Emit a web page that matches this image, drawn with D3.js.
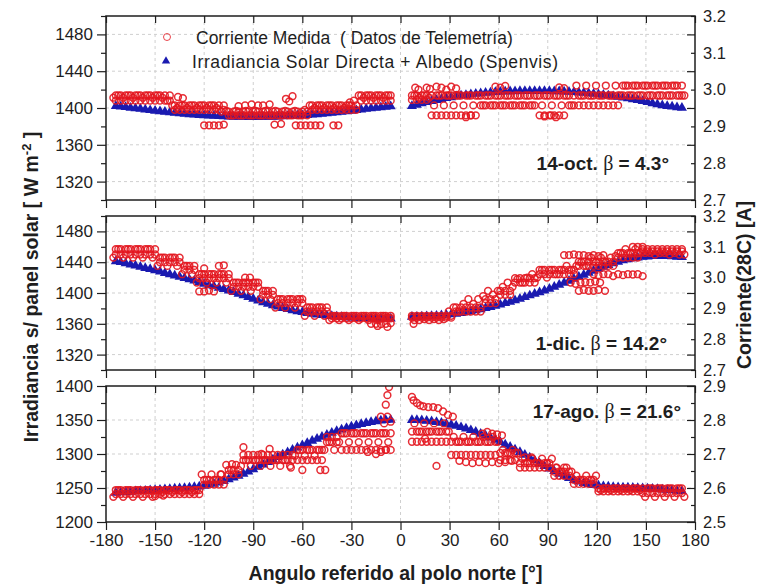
<!DOCTYPE html>
<html>
<head>
<meta charset="utf-8">
<script src="https://cdn.jsdelivr.net/npm/d3@7"></script>
<style>
  body { margin: 0; background: #fff; }
  text { font-family: "Liberation Sans", Arial, sans-serif; fill: #1e1e1e; }
</style>
</head>
<body>
<svg id="chart" width="757" height="587"></svg>
<script>
// ---- sampling angles (deg from north pole) ----
const angleLeft   = d3.range(-174, -5, 3);     // -174 ... -6
const angleRight  = d3.range(7, 173, 3);       //    7 ... 172
const angleLeftB  = d3.range(-175.5, -5, 3);   // interleaved telemetry samples
const angleRightB = d3.range(8.5, 174, 3);

// ---- axis ticks ----
const angleTicks = [-180, -150, -120, -90, -60, -30, 0, 30, 60, 90, 120, 150, 180];
const angleGrid  = [-150, -120, -90, -60, -30, 0, 30, 60, 90, 120, 150];
const irrTicksA  = [1320, 1360, 1400, 1440, 1480];
const irrMinorA  = [1300, 1340, 1380, 1420, 1460, 1500];
const irrTicksB  = [1200, 1250, 1300, 1350, 1400];
const irrMinorB  = [1225, 1275, 1325, 1375];
const curTicksA  = [2.7, 2.8, 2.9, 3.0, 3.1, 3.2];
const curTicksB  = [2.5, 2.6, 2.7, 2.8, 2.9];

// ---- panel captions ----
const dateLabels = ["14-oct.", "1-dic.", "17-ago."];
const betaLabels = ["4.3", "14.2", "21.6"];

// ================= 14-oct =================
// Spenvis irradiance [W m-2]
const octIrrLeft = [
  1402,1401.5,1401,1400.3,1399.6,1399,1398.3,1397.6,1397,1396.4,
  1395.8,1395.2,1394.7,1394.2,1393.7,1393.2,1392.8,1392.4,1392,1391.7,
  1391.4,1391.1,1390.9,1390.7,1390.5,1390.4,1390.3,1390.2,1390.2,1390.2,
  1390.3,1390.4,1390.5,1390.7,1390.9,1391.1,1391.4,1391.7,1392,1392.4,
  1392.8,1393.2,1393.7,1394.2,1394.7,1395.2,1395.8,1396.4,1397,1397.6,
  1398.3,1399,1399.6,1400.2,1400.8,1401.3,1401.8];
const octIrrRight = [
  1402,1403.5,1405,1406.3,1407.5,1408.7,1409.8,1410.8,1411.7,1412.6,
  1413.4,1414.1,1414.8,1415.4,1415.9,1416.4,1416.8,1417.2,1417.5,1417.8,
  1418,1418.2,1418.3,1418.4,1418.5,1418.5,1418.5,1418.4,1418.3,1418.2,
  1418,1417.8,1417.5,1417.2,1416.8,1416.4,1415.9,1415.4,1414.8,1414.2,
  1413.5,1412.8,1412,1411.2,1410.5,1409.5,1408.5,1407.5,1406.3,1405.2,
  1404.1,1403,1402.2,1401.5,1400.8,1400.2];
// telemetry current [A]
const octCurALeft = [
  2.984,2.984,2.984,2.984,2.984,2.984,2.984,2.984,2.984,2.984,2.984,2.984,
  2.957,2.957,2.957,2.957,2.957,2.957,2.957,2.957,2.957,2.957,2.957,
  2.930,2.930,2.930,2.930,2.930,2.930,2.930,2.930,2.930,2.930,2.930,2.930,2.930,2.930,2.930,2.930,2.930,
  2.957,2.957,2.957,2.957,2.957,2.957,2.957,2.957,2.957,2.957,
  2.984,2.984,2.984,2.984,2.984,2.984,2.984];
const octCurBLeft = [
  2.978,2.984,2.978,2.984,2.978,2.984,2.978,2.984,2.978,2.984,2.978,2.970,
  2.957,2.950,2.957,2.950,2.957,2.950,2.957,2.950,2.957,2.950,2.940,
  2.942,2.930,2.942,2.930,2.942,2.930,2.942,2.930,2.942,2.930,2.942,2.930,2.942,2.930,2.942,2.930,2.945,
  2.957,2.950,2.957,2.950,2.957,2.950,2.957,2.950,2.957,2.970,
  2.984,2.978,2.984,2.978,2.984,2.978,2.984];
const octCurCLeft = [
  2.970,2.970,2.970,2.970,2.970,2.970,2.970,2.970,2.970,2.970,2.970,2.970,
  2.945,2.945,2.945,2.945,2.945,2.945,2.945,2.945,2.945,2.945,2.945,
  2.940,2.940,2.940,2.940,2.940,2.940,2.940,2.940,2.940,2.940,2.940,2.940,2.940,2.940,2.940,2.940,2.940,
  2.945,2.945,2.945,2.945,2.945,2.945,2.945,2.945,2.945,2.945,
  2.970,2.970,2.970,2.970,2.970,2.970,2.970];
const octCurARight = [
  2.984,2.984,2.984,2.984,2.984,2.984,2.984,2.984,2.984,2.984,
  2.984,2.984,2.984,2.984,2.984,2.984,2.984,2.984,2.984,2.984,
  2.984,2.984,2.984,2.984,2.984,2.984,2.984,2.984,2.984,2.984,
  2.984,2.984,2.984,2.984,2.984,2.984,2.984,2.984,2.984,2.984,
  2.984,2.984,2.984,2.984,2.984,2.984,2.984,2.984,2.984,2.984,
  2.984,2.984,2.984,2.984,2.984,2.984];
const octCurBRight = [
  2.984,2.978,2.984,2.978,
  2.957,2.984,2.957,2.984,2.957,2.984,2.957,2.984,2.957,2.984,2.957,2.984,2.957,2.984,2.957,
  2.984,2.957,2.984,2.957,2.984,2.957,2.984,2.957,2.984,2.957,2.984,2.957,2.984,2.957,
  3.011,2.984,3.011,2.984,3.011,2.984,3.011,2.984,3.011,2.984,3.011,2.984,
  3.011,2.984,3.011,2.984,3.011,2.984,3.011,2.984,3.011,2.984,2.984];
const octCurCRight = [
  2.972,2.972,2.972,2.972,
  2.930,2.930,2.930,2.930,2.930,2.930,2.930,2.930,2.930,2.930,
  2.957,2.957,2.957,2.957,2.957,2.957,2.957,2.957,2.957,2.957,2.957,2.957,
  2.930,2.930,2.930,2.930,2.930,2.930,
  2.957,2.957,2.957,2.957,2.957,2.957,2.957,2.957,2.957,2.957,2.957,
  3.011,3.011,3.011,3.011,3.011,3.011,3.011,3.011,3.011,3.011,3.011,3.011,3.011];
const octCurScatter = [
  [-136,2.98],[-133,2.977],[-120,2.903],[-117,2.903],[-114,2.903],[-111,2.903],[-108,2.905],
  [-99,2.955],[-95,2.957],[-91,2.96],[-87,2.957],[-84,2.957],[-80,2.96],[-77,2.905],[-73,2.907],
  [-70,2.975],[-68,2.968],[-66,2.982],[-64,2.903],[-61,2.903],[-58,2.903],[-55,2.903],
  [-52,2.903],[-49,2.903],[-41,2.903],[-38,2.903],[-31,2.965],
  [9,3.005],[11,3.0],[16,3.005],[18,3.002],[22,3.008],[25,3.005],[28,3.0],[31,3.008],[34,3.003],
  [58,3.008],[61,3.005],[64,3.01],[97,3.006],[100,3.004],
  [40,2.925],[43,2.93],[88,2.927],[92,2.93],[95,2.925]];

// ================= 1-dic =================
const decIrrLeft = [
  1441,1440,1438.5,1437,1435.5,1434,1432.5,1431,1429.3,1427.7,
  1426,1424.3,1422.6,1421,1419.3,1417.6,1416,1414,1412,1410,
  1408.5,1406.8,1405,1403.2,1401.2,1399,1396.8,1394.6,1392.4,1390.2,
  1388,1386,1384,1382.2,1380.5,1379,1377.6,1376.3,1375.1,1374,
  1373,1372.1,1371.3,1370.6,1370,1369.4,1368.9,1368.5,1368.1,1367.8,
  1367.5,1367.3,1367.1,1367,1366.9,1366.8,1366.8];
const decIrrRight = [
  1369,1369.2,1369.4,1369.7,1370,1370.5,1371,1371.5,1372.2,1373,
  1374,1375,1376.2,1377.4,1378.8,1380.3,1381.8,1383.4,1385,1386.8,
  1388.6,1390.5,1392.5,1394.6,1396.8,1399,1401,1403,1405.5,1408,
  1410.6,1413.2,1415.8,1418.4,1421,1423.6,1426.2,1428.8,1431.4,1434,
  1436.4,1438.6,1440.6,1442.3,1443.8,1445,1446,1446.8,1447.4,1447.8,
  1448,1448,1447.8,1447.5,1447,1446.5];
const decCurALeft = [
  3.092,3.092,3.092,3.092,3.092,3.092,3.092,3.092,3.092,
  3.065,3.065,3.065,3.065,3.065,
  3.038,3.038,3.038,
  3.011,3.011,3.011,3.011,3.011,3.011,3.011,
  2.984,2.984,2.984,2.984,2.984,2.984,
  2.957,2.957,2.957,
  2.930,2.930,2.930,2.930,2.930,2.930,
  2.903,2.903,2.903,2.903,2.903,
  2.876,2.876,2.876,2.876,2.876,2.876,2.876,2.876,2.876,2.876,2.876,2.876,2.876];
const decCurBLeft = [
  3.065,3.092,3.065,3.092,3.065,3.092,3.065,3.092,3.065,
  3.038,3.065,3.038,3.065,3.038,
  3.011,3.038,3.011,
  2.984,3.011,2.984,3.011,2.984,3.011,2.984,
  2.957,2.984,2.957,2.984,2.957,2.984,
  2.930,2.957,2.930,
  2.903,2.930,2.903,2.930,2.903,2.930,
  2.876,2.903,2.876,2.903,2.876,
  2.862,2.876,2.862,2.876,2.862,2.876,2.862,2.876,2.862,2.876,2.862,2.876,2.870];
const decCurCLeft = [
  3.075,3.075,3.075,3.075,3.075,3.075,3.075,3.075,3.075,
  3.050,3.050,3.050,3.050,3.050,
  3.025,3.025,3.025,
  2.998,2.998,2.998,2.998,2.998,2.998,2.998,
  2.970,2.970,2.970,2.970,2.970,2.970,
  2.944,2.944,2.944,
  2.917,2.917,2.917,2.917,2.917,2.917,
  2.890,2.890,2.890,2.890,2.890,
  2.868,2.868,2.868,2.868,2.868,2.868,2.868,2.868,2.868,2.868,2.868,2.868,2.868];
const decCurARight = [
  2.876,2.876,2.876,2.876,2.876,2.876,2.876,2.876,2.876,
  2.903,2.903,2.903,2.903,2.903,2.903,
  2.930,2.930,2.930,
  2.957,2.957,2.957,
  2.984,2.984,2.984,2.984,2.984,
  3.011,3.011,3.011,3.011,3.011,3.011,3.011,3.011,
  3.038,3.038,3.038,3.038,3.038,3.038,3.038,3.038,
  3.065,3.065,3.065,3.065,3.065,
  3.092,3.092,3.092,3.092,3.092,3.092,3.092,3.092,3.092];
const decCurBRight = [
  2.862,2.862,2.865,2.862,2.865,2.862,2.865,2.890,
  2.903,2.890,2.915,2.930,2.915,2.930,2.940,2.957,2.945,2.957,
  2.970,2.984,2.970,2.995,2.984,3.000,3.011,3.000,3.025,3.000,
  3.025,3.011,3.025,3.038,3.025,3.038,3.050,3.038,3.065,3.050,
  3.065,3.050,3.065,3.070,3.080,3.092,3.080,3.092,3.080,3.080,
  3.080,3.075,3.080,3.080,3.075,3.080,3.075,3.075];
const decCurCRight = [
  2.870,2.870,2.870,2.870,2.870,2.870,2.870,2.870,2.870,
  2.890,2.890,2.890,2.890,2.890,2.890,
  2.917,2.917,2.917,
  2.944,2.944,2.944,
  2.998,2.998,2.998,2.998,2.998,
  3.025,3.025,3.025,3.025,3.025,3.025,3.025,3.025,
  3.052,3.052,3.052,3.052,3.052,3.052,3.052,3.052,
  3.079,3.079,3.079,3.079,3.079,
  3.085,3.085,3.085,3.085,3.085,3.085,3.085,3.085,3.085];
const decCurScatter = [
  [-123,2.955],[-120,2.955],[-117,2.958],[-114,2.955],[-111,3.038],[-108,3.04],[-120,3.03],
  [-95,3.0],[-92,3.0],[-18,2.85],[-15,2.85],[-12,2.849],[-9,2.85],[-6,2.852],[-14,2.843],[-8,2.84],
  [8,2.85],[100,3.073],[103,3.073],[106,3.075],[109,3.073],[112,3.073],[115,3.07],[118,3.073],
  [121,3.07],[124,3.073],[118,3.011],[121,3.008],[124,3.011],[127,3.011],[130,3.005],[133,3.011],
  [136,3.008],[139,3.011],[142,3.01],[145,3.011],[148,3.005],[104,2.984],[107,2.98],[110,2.984],
  [113,2.985],[116,2.984],[119,2.987],[122,2.984],[109,2.957],[112,2.96],[115,2.957],[118,2.957],
  [121,2.96],[125,2.957],[142,3.1],[145,3.1],[148,3.1]];

// ================= 17-ago =================
const agoIrrLeft = [
  1243,1243.5,1244,1244.5,1245,1245.5,1246,1246.5,1247,1247.5,
  1248,1248.5,1249,1249.5,1250,1250.6,1251.3,1252,1253,1254.5,
  1256.2,1258,1260.2,1262.6,1265.2,1268,1271,1274.2,1277.5,1281,
  1284.6,1288.2,1291.8,1295.4,1299,1302.6,1306,1309.4,1312.8,1316,
  1319.2,1322.3,1325.3,1328.2,1331,1333.6,1336,1338.3,1340.4,1342.3,
  1344,1345.5,1346.8,1348,1349,1349.8,1350.4];
const agoIrrRight = [
  1350,1349.8,1349.4,1348.8,1348,1347,1345.8,1344.5,1343,1341.3,
  1339.4,1337.3,1335,1332.5,1329.8,1327,1324,1320.8,1317.5,1314,
  1310.4,1306.6,1302.7,1298.7,1294.6,1290.5,1286.4,1282.4,1278.5,1274.7,
  1271,1267.6,1264.5,1261.7,1259.3,1257.3,1255.7,1254.4,1253.4,1252.6,
  1252,1251.5,1251.1,1250.8,1250.5,1250.2,1249.9,1249.6,1249.2,1248.8,
  1248.3,1247.8,1247.2,1246.6,1246,1245.3];
const agoCurALeft = [
  2.594,2.594,2.594,2.594,2.594,2.594,2.594,2.594,2.594,2.594,2.594,2.594,2.594,2.594,2.594,2.594,2.594,2.594,
  2.624,2.624,2.624,2.624,2.624,
  2.653,2.653,2.653,
  2.682,2.682,2.682,2.682,2.682,2.682,2.682,2.682,2.682,2.682,2.682,
  2.712,2.712,2.712,2.712,2.712,2.712,
  2.735,2.735,2.735,
  2.761,2.761,2.761,2.761,2.761,2.761,2.761,2.761,2.761,2.761,2.761];
const agoCurBLeft = [
  2.574,2.594,2.574,2.594,2.574,2.594,2.574,2.594,2.574,2.594,
  2.588,2.594,2.588,2.594,2.588,2.594,2.588,2.594,
  2.640,2.624,2.640,2.624,2.640,
  2.668,2.653,2.668,
  2.665,2.682,2.665,2.682,2.665,2.682,2.665,2.682,2.665,2.682,2.665,
  2.695,2.712,2.695,2.712,2.695,2.712,
  2.712,2.735,2.712,
  2.735,2.761,2.735,2.761,2.735,2.761,2.735,2.761,2.735,2.761,2.735];
const agoCurCLeft = [
  2.582,2.582,2.582,2.582,2.582,2.582,2.582,2.582,2.582,2.582,2.582,2.582,2.582,2.582,2.582,2.582,2.582,2.582,
  2.610,2.610,2.610,2.610,2.610,
  2.640,2.640,2.640,
  2.697,2.697,2.697,2.697,2.697,2.697,2.697,2.697,2.697,2.697,2.697,
  2.682,2.682,2.682,2.682,2.682,2.682,
  2.750,2.750,2.750,
  2.712,2.712,2.712,2.712,2.712,2.712,2.712,2.712,2.712,2.712,2.712];
const agoCurARight = [
  2.766,2.766,2.766,2.766,2.766,2.766,2.766,2.766,
  2.736,2.736,2.736,2.736,2.736,2.736,2.736,2.736,2.736,2.736,
  2.703,2.703,2.703,2.703,
  2.673,2.673,2.673,2.673,2.673,2.673,2.673,
  2.648,2.648,2.648,2.648,
  2.624,2.624,2.624,2.624,2.624,
  2.599,2.599,2.599,2.599,2.599,2.599,2.599,2.599,2.599,2.599,2.599,2.599,2.599,2.599,2.599,2.599,2.599,2.599];
const agoCurBRight = [
  2.790,2.766,2.790,2.766,2.790,2.766,2.790,2.766,
  2.750,2.736,2.750,2.736,2.750,2.736,2.750,2.736,2.750,2.736,
  2.712,2.703,2.712,2.703,
  2.686,2.673,2.686,2.673,2.686,2.673,2.686,
  2.660,2.648,2.660,2.648,
  2.636,2.624,2.636,2.624,2.636,
  2.594,2.599,2.594,2.599,2.594,2.599,2.594,2.599,2.594,
  2.574,2.599,2.574,2.599,2.574,2.599,2.574,2.599,2.574];
const agoCurCRight = [
  2.736,2.736,2.736,2.736,2.736,2.736,2.736,2.736,
  2.697,2.697,2.697,2.697,2.697,2.697,2.697,2.697,2.697,2.697,
  2.682,2.682,2.682,2.682,
  2.660,2.660,2.660,2.660,2.660,2.660,2.660,
  2.636,2.636,2.636,2.636,
  2.612,2.612,2.612,2.612,2.612,
  2.590,2.590,2.590,2.590,2.590,2.590,2.590,2.590,2.590,
  2.585,2.585,2.585,2.585,2.585,2.585,2.585,2.585,2.585];
const agoCurScatter = [
  [-7,2.897],[-8,2.873],[-9,2.845],[-12,2.81],[-8,2.81],[-6,2.795],[-10,2.79],
  [-60,2.653],[-49,2.653],[-46,2.653],[-67,2.66],[-85,2.70],[-80,2.715],[-96,2.72],
  [-20,2.706],[-15,2.70],[-12,2.706],[-9,2.712],[-145,2.578],[-150,2.576],[-103,2.67],[-110,2.64],
  [7,2.868],[8,2.858],[10,2.85],[12,2.843],[14,2.84],[17,2.838],[20,2.838],[23,2.835],[26,2.825],
  [29,2.815],[32,2.81],[15,2.745],[22,2.665],[36,2.68],[40,2.676],[44,2.673],[48,2.676],[52,2.673],
  [56,2.676],[60,2.673],[64,2.676],[68,2.68],[50,2.76],[53,2.765],[56,2.76],[59,2.758],[62,2.755],
  [76,2.69],[80,2.69],[95,2.66],[100,2.66]];

// ---- legend ----
const legendMeasured = "Corriente Medida  ( Datos de Telemetría)";
const legendModel    = "Irradiancia Solar Directa + Albedo (Spenvis)";

// ---------------------------------------------------------------
const svg = d3.select("#chart");
const X0 = 106, X1 = 695;
const x = d3.scaleLinear().domain([-180, 180]).range([X0, X1]);

const RED = "#e3161f", BLUE = "#1a1ab0", INK = "#1e1e1e";

const panels = [
  { top: 16,  bottom: 200, irrDomain: [1300, 1500], curDomain: [2.7, 3.2],
    irrTicks: irrTicksA, irrMinor: irrMinorA, curTicks: curTicksA,
    irr: [octIrrLeft, octIrrRight],
    cur: [[octCurALeft, octCurBLeft, octCurCLeft], [octCurARight, octCurBRight, octCurCRight]],
    scatter: octCurScatter, capX: 669, capY: 170 },
  { top: 216, bottom: 370, irrDomain: [1300, 1500], curDomain: [2.7, 3.2],
    irrTicks: irrTicksA, irrMinor: irrMinorA, curTicks: curTicksA,
    irr: [decIrrLeft, decIrrRight],
    cur: [[decCurALeft, decCurBLeft, decCurCLeft], [decCurARight, decCurBRight, decCurCRight]],
    scatter: decCurScatter, capX: 667, capY: 350 },
  { top: 386, bottom: 522, irrDomain: [1200, 1400], curDomain: [2.5, 2.9],
    irrTicks: irrTicksB, irrMinor: irrMinorB, curTicks: curTicksB,
    irr: [agoIrrLeft, agoIrrRight],
    cur: [[agoCurALeft, agoCurBLeft, agoCurCLeft], [agoCurARight, agoCurBRight, agoCurCRight]],
    scatter: agoCurScatter, capX: 681, capY: 418, xLabels: true }
];

function styleAxis(g, fontSize) {
  g.attr("font-size", null).attr("font-family", null);
  g.select(".domain").remove();
  g.selectAll(".tick line").attr("stroke", INK).attr("stroke-width", 1.2);
  g.selectAll(".tick text").style("font-size", fontSize + "px").attr("fill", INK);
}

// row 0 and row 2 use the base grid, row 1 the interleaved grid
const grids = [[angleLeft, angleLeftB, angleLeft], [angleRight, angleRightB, angleRight]];

panels.forEach((p, k) => {
  const yL = d3.scaleLinear().domain(p.irrDomain).range([p.bottom, p.top]);
  const yR = d3.scaleLinear().domain(p.curDomain).range([p.bottom, p.top]);
  const g = svg.append("g");

  // grid
  const grid = g.append("g").attr("stroke", "#cfcfcf").attr("stroke-width", 1)
    .attr("stroke-dasharray", "3,3");
  grid.selectAll("line.v").data(angleGrid).join("line").attr("class", "v")
    .attr("x1", d => x(d)).attr("x2", d => x(d)).attr("y1", p.top).attr("y2", p.bottom);
  grid.selectAll("line.h").data(p.irrTicks.filter(d => yL(d) > p.top + 1 && yL(d) < p.bottom - 1))
    .join("line").attr("class", "h")
    .attr("x1", X0).attr("x2", X1).attr("y1", d => yL(d)).attr("y2", d => yL(d));

  // clip
  const cid = "clip" + k;
  svg.append("clipPath").attr("id", cid).append("rect")
    .attr("x", X0).attr("y", p.top).attr("width", X1 - X0).attr("height", p.bottom - p.top);
  const data = g.append("g").attr("clip-path", `url(#${cid})`);

  // model irradiance (triangles)
  const tri = [];
  p.irr.forEach((arr, s) => arr.forEach((v, i) => {
    const a = grids[s][0][i];
    if (v != null && a != null) tri.push({ a, v });
  }));
  data.append("g").selectAll("path").data(tri).join("path")
    .attr("d", d3.symbol(d3.symbolTriangle, 44))
    .attr("transform", d => `translate(${x(d.a)},${yL(d.v)})`)
    .attr("fill", BLUE);

  // measured current (open circles)
  const circ = [];
  p.cur.forEach((rows, s) => rows.forEach((arr, r) => arr.forEach((v, i) => {
    const a = grids[s][r][i];
    if (v != null && a != null) circ.push({ a, v });
  })));
  p.scatter.forEach(([a, v]) => circ.push({ a, v }));
  data.append("g").selectAll("circle").data(circ).join("circle")
    .attr("cx", d => x(d.a)).attr("cy", d => yR(d.v)).attr("r", 3.4)
    .attr("fill", "none").attr("stroke", RED).attr("stroke-width", 1.5)
    .attr("stroke-opacity", 0.9);

  // left axis: labels + major ticks (outward), minor ticks
  g.append("g").attr("transform", `translate(${X0},0)`)
    .call(d3.axisLeft(yL).tickValues(p.irrTicks).tickSize(9).tickPadding(4).tickFormat(d => String(d)))
    .call(a => styleAxis(a, 17));
  g.append("g").attr("transform", `translate(${X0},0)`)
    .call(d3.axisLeft(yL).tickValues(p.irrMinor).tickSize(5).tickFormat(""))
    .call(a => styleAxis(a, 17));
  // right side: mirrored ticks pointing inward
  g.append("g").attr("transform", `translate(${X1},0)`)
    .call(d3.axisLeft(yL).tickValues(p.irrTicks).tickSize(8).tickFormat(""))
    .call(a => styleAxis(a, 17));
  g.append("g").attr("transform", `translate(${X1},0)`)
    .call(d3.axisLeft(yL).tickValues(p.irrMinor).tickSize(4).tickFormat(""))
    .call(a => styleAxis(a, 17));
  // right labels: current
  g.append("g").attr("transform", `translate(${X1},0)`)
    .call(d3.axisRight(yR).tickValues(p.curTicks).tickSize(0).tickPadding(8).tickFormat(d3.format(".1f")))
    .call(a => styleAxis(a, 16.5));

  // angle ticks: top edge (inward) and bottom edge (outward), both pointing down
  g.append("g").attr("transform", `translate(0,${p.top})`)
    .call(d3.axisBottom(x).tickValues(angleTicks).tickSize(7).tickFormat(""))
    .call(a => styleAxis(a, 17));
  g.append("g").attr("transform", `translate(0,${p.bottom})`)
    .call(d3.axisBottom(x).tickValues(angleTicks).tickSize(8).tickPadding(4)
      .tickFormat(p.xLabels ? (d => String(d)) : ""))
    .call(a => styleAxis(a, 17));

  // frame
  g.append("rect").attr("x", X0).attr("y", p.top).attr("width", X1 - X0)
    .attr("height", p.bottom - p.top).attr("fill", "none")
    .attr("stroke", INK).attr("stroke-width", 1.5);

  // caption
  const cap = g.append("text").attr("x", p.capX).attr("y", p.capY)
    .attr("text-anchor", "end").style("font-size", "19px").style("font-weight", "bold")
    .style("white-space", "pre");
  cap.append("tspan").text(dateLabels[k] + " ");
  cap.append("tspan").style("font-family", "'Liberation Serif', 'DejaVu Serif', serif")
    .style("font-weight", "normal").style("font-size", "20px").text("β");
  cap.append("tspan").text(" = " + betaLabels[k] + "°");
});

// legend
const lg = svg.append("g");
lg.append("circle").attr("cx", 167).attr("cy", 37).attr("r", 3.5)
  .attr("fill", "none").attr("stroke", RED).attr("stroke-width", 1).attr("stroke-opacity", 0.8);
lg.append("text").attr("x", 196).attr("y", 44).style("font-size", "17.5px")
  .style("white-space", "pre").text(legendMeasured);
lg.append("path").attr("d", d3.symbol(d3.symbolTriangle, 30))
  .attr("transform", "translate(166,61)").attr("fill", BLUE);
lg.append("text").attr("x", 192).attr("y", 68).style("font-size", "17.5px")
  .style("white-space", "pre").attr("textLength", 366).attr("lengthAdjust", "spacing")
  .text(legendModel);

// axis titles
svg.append("text").attr("x", (X0 + X1) / 2 - 5).attr("y", 580).attr("text-anchor", "middle")
  .style("font-size", "19.5px").style("font-weight", "bold")
  .text("Angulo referido al polo norte [°]");

const yt = svg.append("text").attr("transform", "translate(38,287) rotate(-90)")
  .attr("text-anchor", "middle").style("font-size", "19.5px").style("font-weight", "bold")
  .style("white-space", "pre");
yt.append("tspan").text("Irradiancia s/ panel solar [ W m");
yt.append("tspan").attr("dy", -7).style("font-size", "13px").text("-2");
yt.append("tspan").attr("dy", 7).text(" ]");

svg.append("text").attr("transform", "translate(751,285) rotate(-90)")
  .attr("text-anchor", "middle").style("font-size", "19.5px").style("font-weight", "bold")
  .text("Corriente(28C) [A]");
</script>
</body>
</html>
